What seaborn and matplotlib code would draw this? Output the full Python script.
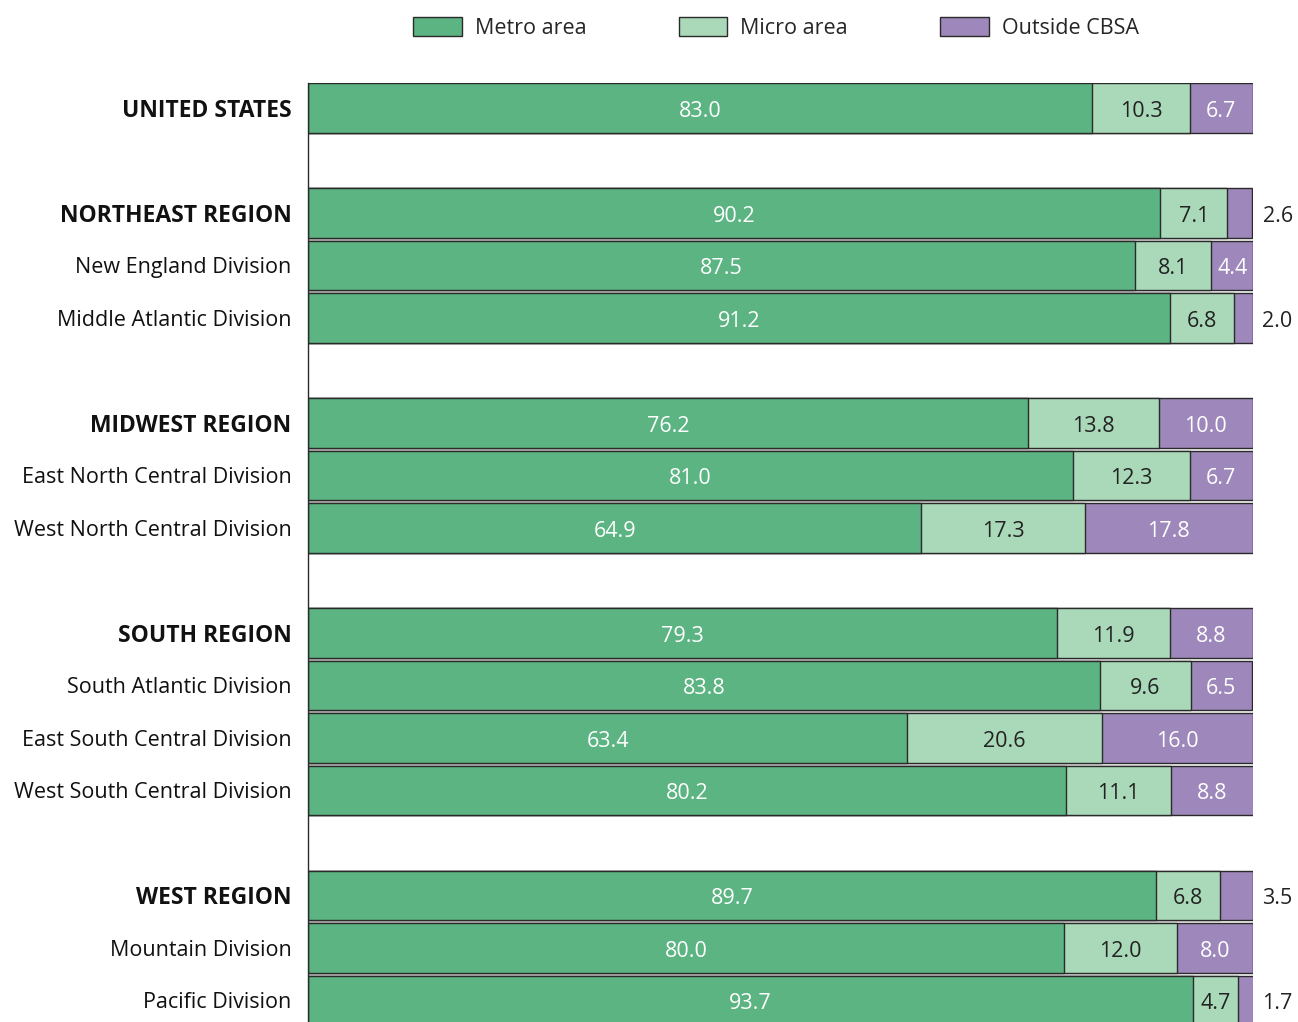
import matplotlib
matplotlib.use("Agg")
import matplotlib.pyplot as plt
import seaborn as sns
import pandas as pd
from matplotlib.patches import Patch

names = ["UNITED STATES", "NORTHEAST REGION", "New England Division", "Middle Atlantic Division",
         "MIDWEST REGION", "East North Central Division", "West North Central Division",
         "SOUTH REGION", "South Atlantic Division", "East South Central Division", "West South Central Division",
         "WEST REGION", "Mountain Division", "Pacific Division"]
metro = [83.0, 90.2, 87.5, 91.2, 76.2, 81.0, 64.9, 79.3, 83.8, 63.4, 80.2, 89.7, 80.0, 93.7]
micro = [10.3, 7.1, 8.1, 6.8, 13.8, 12.3, 17.3, 11.9, 9.6, 20.6, 11.1, 6.8, 12.0, 4.7]
outside = [6.7, 2.6, 4.4, 2.0, 10.0, 6.7, 17.8, 8.8, 6.5, 16.0, 8.8, 3.5, 8.0, 1.7]
bold_rows = {"UNITED STATES", "NORTHEAST REGION", "MIDWEST REGION", "SOUTH REGION", "WEST REGION"}
series_names = ["Metro area", "Micro area", "Outside CBSA"]

# layout order with blank spacer slots between groups
order = ["UNITED STATES", "_g1", "NORTHEAST REGION", "New England Division", "Middle Atlantic Division", "_g2",
         "MIDWEST REGION", "East North Central Division", "West North Central Division", "_g3",
         "SOUTH REGION", "South Atlantic Division", "East South Central Division", "West South Central Division", "_g4",
         "WEST REGION", "Mountain Division", "Pacific Division"]

c_metro = "#5bb482"
c_micro = "#a9d9b9"
c_out = "#9e87ba"
edge = "#2a2a2a"

df = pd.DataFrame({"name": names, "metro": metro, "micro": micro, "outside": outside})
df["cum2"] = df["metro"] + df["micro"]
df["cum3"] = df["cum2"] + df["outside"]

sns.set_theme(style="white")
plt.rcParams["font.family"] = ["Open Sans", "DejaVu Sans"]

fig = plt.figure(figsize=(12.98, 10.22), dpi=100)
ax = fig.add_axes([308 / 1298, 0.0, (1253 - 308) / 1298, 1 - 83 / 1022])

common = dict(data=df, y="name", order=order, orient="h", width=0.95,
              edgecolor=edge, linewidth=1.0, ax=ax)
sns.barplot(x="cum3", color=c_out, saturation=1, **common)
sns.barplot(x="cum2", color=c_micro, saturation=1, **common)
sns.barplot(x="metro", color=c_metro, saturation=1, **common)

ax.set_xlim(0, 100)
ax.set_ylim(17 + 0.41, -0.475)
ax.set_xlabel("")
ax.set_ylabel("")
ax.set_xticks([])
for s in ["top", "right", "bottom"]:
    ax.spines[s].set_visible(False)
ax.spines["left"].set_color(edge)
ax.spines["left"].set_linewidth(1.0)

ticks = list(range(len(order)))
ax.set_yticks(ticks)
ax.set_yticklabels(["" if o.startswith("_g") else o for o in order])
ax.tick_params(axis="y", length=0, pad=12)
for lbl in ax.get_yticklabels():
    t = lbl.get_text()
    lbl.set_color("#111111")
    if t in bold_rows:
        lbl.set_fontweight("bold")
        lbl.set_fontsize(16.5)
    else:
        lbl.set_fontsize(15.5)

fs = 15.5
dy = 0.06
for i, n in enumerate(names):
    y = order.index(n) + dy
    m, mi, o = metro[i], micro[i], outside[i]
    ax.text(m / 2, y, f"{m:.1f}", ha="center", va="center", color="white", fontsize=fs)
    ax.text(m + mi / 2, y, f"{mi:.1f}", ha="center", va="center", color="#222222", fontsize=fs)
    if o < 4:
        ax.text(102.6, y, f"{o:.1f}", ha="center", va="center", color="#222222", fontsize=fs, clip_on=False)
    else:
        ax.text(m + mi + o / 2, y, f"{o:.1f}", ha="center", va="center", color="white", fontsize=fs)

handles = [Patch(facecolor=c, edgecolor=edge, linewidth=1.0) for c in (c_metro, c_micro, c_out)]
fig.legend(handles, series_names, loc="center", bbox_to_anchor=(776 / 1298, 1 - 28 / 1022),
           ncol=3, frameon=False, fontsize=15.5, handlelength=2.25, handleheight=1.0,
           columnspacing=4.3, handletextpad=0.6)

fig.savefig("out.png", dpi=100)
